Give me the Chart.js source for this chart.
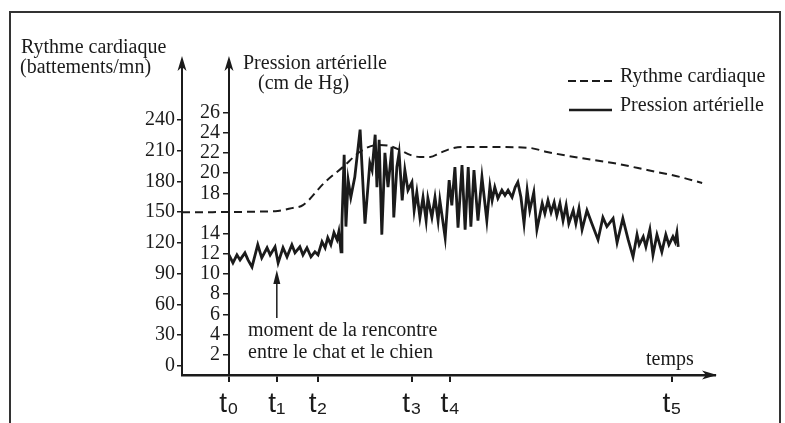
<!DOCTYPE html>
<html>
<head>
<meta charset="utf-8">
<script src="https://cdn.jsdelivr.net/npm/chart.js@4.4.0/dist/chart.umd.min.js"></script>
<style>
body { margin: 0; background: #fff; }
#wrap { width: 785px; height: 423px; }
</style>
</head>
<body>
<div id="wrap"><canvas id="chart" width="785" height="423"></canvas></div>
<script>
// time axis in arbitrary units: t0 = 0, t5 = 100
const tTicks = [0, 10.8, 20.1, 41.3, 49.9, 100];
const tLabels = ['t₀', 't₁', 't₂', 't₃', 't₄', 't₅'];

const hrTicks = [0, 30, 60, 90, 120, 150, 180, 210, 240];
const pTicks = [2, 4, 6, 8, 10, 12, 14, 18, 20, 22, 24, 26];

// heart rate (battements/mn)
const hrTime = [-10.6, 10.4, 14.2, 16.7, 21.7, 25.7, 29.6, 33.4, 36.3, 38.6, 40.9, 43.1,
    45.4, 47.6, 49.9, 52.8, 58.2, 67.9, 71.8, 79.2, 86.7, 94.4, 101.8, 106.8];
const hrRate = [150, 151, 154, 157, 179.5, 194, 209, 215.6, 214.6, 210.7, 205.9, 203.9,
    203.9, 207.8, 211.7, 213.7, 213.7, 212.7, 208.8, 203, 198, 191.2, 184.4, 178.5];

// blood pressure (cm de Hg)
const pTime = [0, 0.9, 1.8, 2.5, 3.6, 4.3, 5.2, 6.5, 7.4, 8.6, 9.3, 10.4, 11.1, 12.2, 13.1, 14.2, 14.9,
    16.0, 16.7, 17.6, 18.5, 19.4, 20.1, 21.0, 21.7, 22.3, 23.0, 23.7, 24.4, 24.8, 25.3, 25.5, 26.0,
    26.4, 26.9, 27.5, 28.4, 29.6, 30.7, 31.8, 32.3, 33.0, 33.4, 33.9, 34.5, 35.2, 35.9, 36.8, 37.2,
    37.9, 38.4, 39.1, 39.7, 40.4, 41.3, 41.8, 42.4, 43.1, 43.8, 44.5, 44.9, 45.8, 46.5, 47.2, 47.6,
    48.8, 49.7, 50.3, 51.0, 51.7, 52.6, 53.3, 54.0, 54.6, 55.3, 56.2, 57.1, 58.2, 58.9, 59.4, 60.0,
    60.7, 61.6, 62.3, 63.0, 63.9, 64.6, 65.2, 65.9, 66.6, 67.3, 67.9, 68.8, 69.5, 70.7, 71.3, 72.0,
    72.7, 73.4, 74.0, 74.7, 75.4, 76.1, 76.7, 77.7, 78.3, 79.0, 79.7, 80.8, 81.9, 83.3, 84.4, 85.3,
    86.7, 87.6, 88.9, 90.1, 91.2, 92.1, 92.6, 93.5, 94.1, 95.0, 95.7, 96.6, 97.7, 98.6, 99.3, 100.2,
    100.7, 101.1, 101.4];
const pValue = [11.9, 11.1, 11.9, 11.4, 12.1, 11.4, 10.7, 12.9, 11.6, 12.6, 11.9, 12.7, 11.1, 12.6, 11.7, 12.9, 12.1,
    12.7, 11.9, 12.6, 11.7, 12.2, 11.9, 13.2, 12.6, 13.6, 12.9, 14.1, 13.4, 14.2, 12.2, 15.1, 21.8,
    14.7, 19.3, 17.6, 19.6, 24.3, 15.0, 21.0, 20.3, 23.8, 18.6, 23.3, 13.9, 22.0, 18.6, 22.6, 15.6,
    20.6, 22.0, 17.3, 20.3, 18.3, 19.1, 16.3, 18.1, 15.6, 17.6, 15.3, 17.5, 15.6, 17.6, 15.3, 17.3,
    13.6, 19.3, 16.8, 20.6, 14.6, 20.8, 14.4, 20.6, 14.7, 20.3, 15.3, 19.6, 15.3, 18.7, 17.3, 18.6,
    17.5, 18.3, 17.8, 18.3, 17.6, 18.6, 19.1, 17.6, 15.0, 18.3, 16.3, 18.1, 14.4, 17.0, 16.0, 17.3,
    16.1, 17.1, 15.8, 17.0, 15.3, 16.8, 15.0, 16.3, 15.0, 16.5, 14.4, 16.3, 15.0, 13.4, 15.6, 14.7,
    15.5, 13.1, 15.5, 13.4, 11.7, 13.9, 12.9, 13.7, 12.7, 14.4, 11.9, 13.9, 12.2, 13.9, 12.9, 13.7,
    13.2, 14.1, 12.7];

const ink = '#1b1b1b';
const serif = '"Liberation Serif", "Times New Roman", serif';

function arrowHead(ctx, x, y, dir) {
    // dir: 'up' or 'right', (x, y) is the tip
    ctx.save();
    ctx.translate(x, y);
    if (dir === 'right') ctx.rotate(Math.PI / 2);
    ctx.beginPath();
    ctx.moveTo(0, 0);
    ctx.lineTo(-4.5, 15);
    ctx.lineTo(0, 11);
    ctx.lineTo(4.5, 15);
    ctx.closePath();
    ctx.fillStyle = ink;
    ctx.fill();
    ctx.restore();
}

const decor = {
    id: 'decor',
    afterDraw(chart) {
        const ctx = chart.ctx;
        const area = chart.chartArea;
        const xs = chart.scales.x;
        ctx.save();

        // frame
        ctx.strokeStyle = '#333';
        ctx.lineWidth = 2;
        ctx.beginPath();
        ctx.moveTo(10, 423);
        ctx.lineTo(10, 12);
        ctx.lineTo(780, 12);
        ctx.lineTo(780, 423);
        ctx.stroke();

        // axis arrows
        arrowHead(ctx, area.left, area.top - 4, 'up');
        arrowHead(ctx, xs.getPixelForValue(0), area.top - 4, 'up');
        arrowHead(ctx, area.right + 2, area.bottom, 'right');

        // axis titles
        ctx.fillStyle = ink;
        ctx.font = '20px ' + serif;
        ctx.textAlign = 'left';
        ctx.textBaseline = 'alphabetic';
        ctx.fillText('Rythme cardiaque', 21, 53);
        ctx.fillText('(battements/mn)', 20, 73);
        ctx.fillText('Pression artérielle', 243, 69);
        ctx.fillText('(cm de Hg)', 258, 89);
        ctx.fillText('temps', 646, 365);

        // legend
        ctx.fillText('Rythme cardiaque', 620, 82);
        ctx.fillText('Pression artérielle', 620, 111);
        ctx.strokeStyle = ink;
        ctx.lineWidth = 2;
        ctx.setLineDash([8, 4]);
        ctx.beginPath();
        ctx.moveTo(568, 81);
        ctx.lineTo(613, 81);
        ctx.stroke();
        ctx.setLineDash([]);
        ctx.lineWidth = 2.5;
        ctx.beginPath();
        ctx.moveTo(569, 110);
        ctx.lineTo(612, 110);
        ctx.stroke();

        // meeting annotation at t1
        const xm = xs.getPixelForValue(tTicks[1]);
        ctx.lineWidth = 1.5;
        ctx.beginPath();
        ctx.moveTo(xm, 318);
        ctx.lineTo(xm, 280);
        ctx.stroke();
        ctx.beginPath();
        ctx.moveTo(xm, 270);
        ctx.lineTo(xm - 3.5, 284);
        ctx.lineTo(xm + 3.5, 284);
        ctx.closePath();
        ctx.fill();
        ctx.fillText('moment de la rencontre', 248, 336);
        ctx.fillText('entre le chat et le chien', 248, 358);

        ctx.restore();
    }
};

new Chart(document.getElementById('chart'), {
    type: 'line',
    data: {
        datasets: [{
            label: 'Rythme cardiaque',
            data: hrTime.map((t, i) => ({x: t, y: hrRate[i]})),
            yAxisID: 'yHr',
            borderColor: ink,
            borderWidth: 2,
            borderDash: [8, 5],
            cubicInterpolationMode: 'monotone',
            pointRadius: 0,
            fill: false
        }, {
            label: 'Pression artérielle',
            data: pTime.map((t, i) => ({x: t, y: pValue[i]})),
            yAxisID: 'yP',
            borderColor: ink,
            borderWidth: 2.8,
            borderJoinStyle: 'miter',
            tension: 0,
            pointRadius: 0,
            fill: false
        }]
    },
    options: {
        responsive: false,
        animation: false,
        layout: {padding: {top: 60, right: 70, bottom: 0, left: 0}},
        plugins: {
            legend: {display: false},
            tooltip: {enabled: false}
        },
        scales: {
            x: {
                type: 'linear',
                position: 'bottom',
                min: -10.6,
                max: 109.7,
                afterFit: s => { s.height = 48; },
                afterBuildTicks: s => { s.ticks = tTicks.map(v => ({value: v})); },
                border: {color: ink, width: 2.5},
                grid: {drawOnChartArea: false, drawTicks: true, tickLength: 7, color: ink, lineWidth: 2},
                ticks: {
                    autoSkip: false, maxRotation: 0, padding: 5, color: ink,
                    font: {family: '"Liberation Sans", Arial, sans-serif', size: 28},
                    callback: (v, i) => tLabels[i]
                }
            },
            yHr: {
                type: 'linear',
                position: 'left',
                min: -8.8,
                max: 298.5,
                afterFit: s => { s.width = 182; },
                afterBuildTicks: s => { s.ticks = hrTicks.map(v => ({value: v})); },
                border: {color: ink, width: 2, dash: [7, 4]},
                grid: {drawOnChartArea: false, drawTicks: true, tickLength: 5, color: ink, lineWidth: 1.5},
                ticks: {autoSkip: false, padding: 2, color: ink, font: {family: serif, size: 20}}
            },
            yP: {
                type: 'linear',
                position: {x: 0},
                min: 0,
                max: 31.2,
                afterBuildTicks: s => { s.ticks = pTicks.map(v => ({value: v})); },
                border: {color: ink, width: 2},
                grid: {drawOnChartArea: false, drawTicks: true, tickLength: 5, color: ink, lineWidth: 1.5},
                // labels of an axis placed at x = 0 sit on the axis line, so pad them with spaces
                ticks: {autoSkip: false, color: ink, font: {family: serif, size: 20}, callback: v => v + ' \u2009'}
            }
        }
    },
    plugins: [decor]
});
</script>
</body>
</html>
